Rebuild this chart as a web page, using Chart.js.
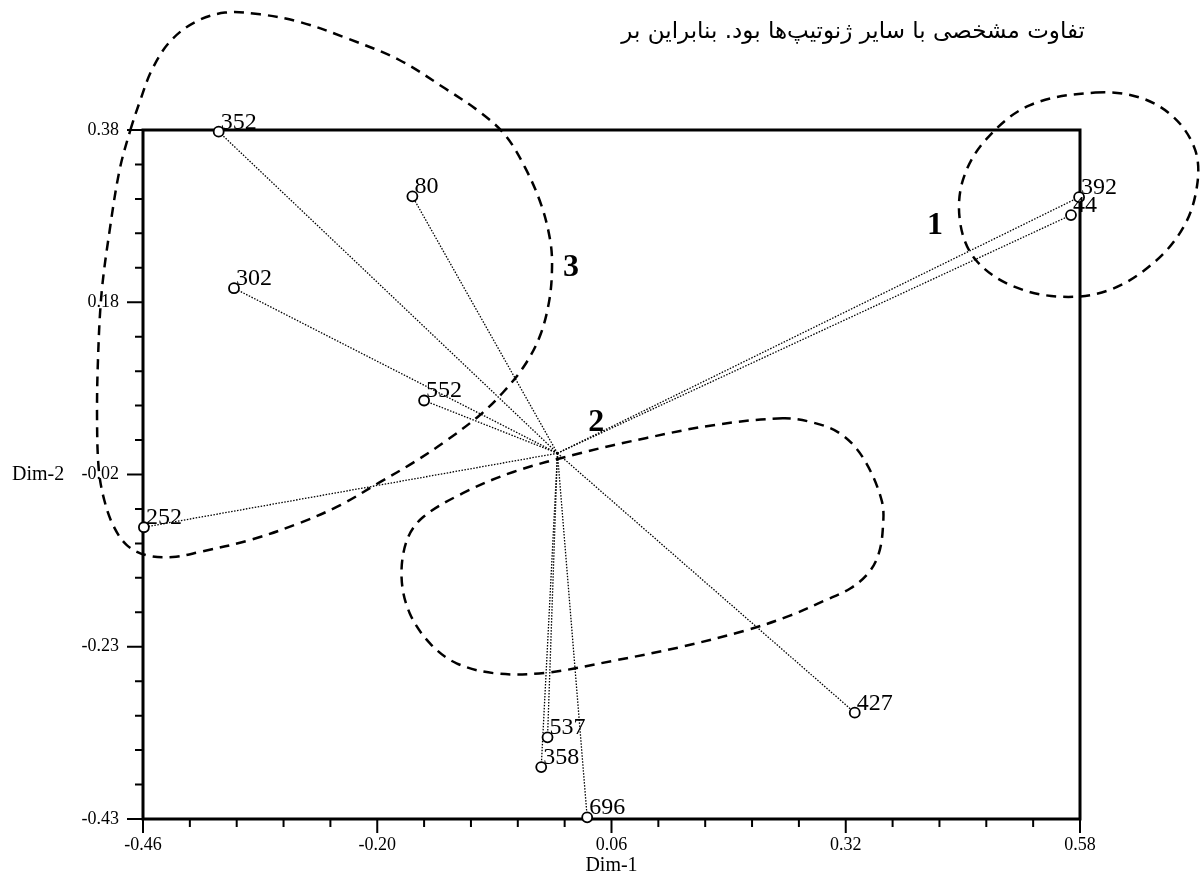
<!DOCTYPE html>
<html>
<head>
<meta charset="utf-8">
<script src="https://cdn.jsdelivr.net/npm/chart.js@4"></script>
<style>
  body { margin: 0; background: #fff; }
  #wrap { position: relative; width: 1203px; height: 878px; }
  #note {
    position: absolute; top: 17px; right: 118px;
    font-family: "DejaVu Sans"; font-size: 23px;
    direction: rtl; white-space: nowrap; color: #000;
  }
</style>
</head>
<body>
<div id="wrap">
  <canvas id="biplot" width="1203" height="878"></canvas>
  <div id="note">تفاوت مشخصی با سایر ژنوتیپ‌ها بود. بنابراین بر</div>
</div>
<script>
// genotype scores on the two dimensions
const genotypes = ["352", "80", "302", "552", "252", "392", "44", "427", "537", "358", "696"];
const dim1 = [-0.376, -0.161, -0.359, -0.148, -0.459, 0.579, 0.570, 0.330, -0.011, -0.018, 0.033];
const dim2 = [0.378, 0.302, 0.194, 0.062, -0.087, 0.301, 0.280, -0.305, -0.334, -0.369, -0.428];

const xTickLabels = ["-0.46", "-0.20", "0.06", "0.32", "0.58"];
const yTickLabels = ["0.38", "0.18", "-0.02", "-0.23", "-0.43"];

// group outlines (Dim-1, Dim-2)
const group1 = [[0.597, 0.424], [0.647, 0.418], [0.685, 0.394], [0.708, 0.356], [0.710, 0.315],
  [0.696, 0.268], [0.663, 0.225], [0.613, 0.192], [0.558, 0.184], [0.502, 0.198],
  [0.463, 0.229], [0.447, 0.271], [0.450, 0.321], [0.475, 0.368], [0.524, 0.409]];
const group2 = [[0.250, 0.041], [0.173, 0.033], [0.099, 0.018], [0.025, 0.000], [-0.049, -0.022],
  [-0.105, -0.047], [-0.149, -0.075], [-0.167, -0.102], [-0.173, -0.146], [-0.164, -0.188],
  [-0.141, -0.224], [-0.112, -0.247], [-0.067, -0.259], [-0.012, -0.258], [0.062, -0.244],
  [0.136, -0.228], [0.210, -0.208], [0.258, -0.191], [0.297, -0.173], [0.325, -0.159],
  [0.345, -0.141], [0.356, -0.120], [0.361, -0.091], [0.360, -0.056], [0.339, -0.005],
  [0.314, 0.023], [0.284, 0.036]];
const group3 = [[-0.474, 0.380], [-0.463, 0.415], [-0.450, 0.451], [-0.430, 0.484], [-0.402, 0.507],
  [-0.369, 0.518], [-0.330, 0.516], [-0.286, 0.507], [-0.234, 0.488], [-0.175, 0.462],
  [-0.125, 0.429], [-0.086, 0.401], [-0.058, 0.374], [-0.036, 0.336], [-0.018, 0.292],
  [-0.008, 0.250], [-0.006, 0.219], [-0.009, 0.180], [-0.019, 0.139], [-0.036, 0.104],
  [-0.060, 0.072], [-0.086, 0.045], [-0.123, 0.015], [-0.160, -0.011], [-0.197, -0.034],
  [-0.241, -0.061], [-0.286, -0.082], [-0.341, -0.102], [-0.397, -0.116], [-0.427, -0.122],
  [-0.456, -0.120], [-0.478, -0.108], [-0.493, -0.085], [-0.503, -0.055], [-0.509, -0.020],
  [-0.511, 0.039], [-0.510, 0.109], [-0.506, 0.188], [-0.497, 0.262], [-0.486, 0.333]];

const groupNames = ["1", "2", "3"];
const groupLabelX = [0.419, 0.043, 0.015];
const groupLabelY = [0.268, 0.036, 0.218];

const serif = "'Liberation Serif', 'Times New Roman', serif";

// closed smooth outline: wrap the ends so the spline has neighbours, hide the extra segments
function outline(pts) {
  const n = pts.length;
  const loop = [pts[n - 1], ...pts, pts[0], pts[1]].map(p => ({ x: p[0], y: p[1] }));
  return {
    data: loop,
    showLine: true,
    pointRadius: 0,
    borderColor: "#000",
    borderWidth: 2.5,
    borderDash: [10, 7],
    tension: 0.35,
    clip: false,
    segment: {
      borderColor: c => (c.p0DataIndex === 0 || c.p0DataIndex === n + 1) ? "rgba(0,0,0,0)" : "#000"
    }
  };
}

const points = genotypes.map((g, i) => ({ x: dim1[i], y: dim2[i] }));

const spokes = genotypes.map((g, i) => ({
  data: [{ x: 0, y: 0 }, { x: dim1[i], y: dim2[i] }],
  showLine: true,
  pointRadius: 0,
  borderColor: "#000",
  borderWidth: 1.3,
  borderDash: [1.5, 1.5],
  clip: false
}));

const extras = {
  id: "extras",
  beforeDatasetsDraw(chart) {
    const { ctx, chartArea: a, scales: { x, y } } = chart;
    ctx.save();
    ctx.strokeStyle = "#000";
    ctx.lineWidth = 3;
    ctx.strokeRect(a.left, a.top, a.right - a.left, a.bottom - a.top);
    ctx.lineWidth = 2;
    ctx.beginPath();
    for (let i = 0; i <= 20; i++) {
      const px = x.getPixelForValue(x.min + i * (x.max - x.min) / 20);
      ctx.moveTo(px, a.bottom);
      ctx.lineTo(px, a.bottom + (i % 5 === 0 ? 14 : 8));
      const py = y.getPixelForValue(y.min + i * (y.max - y.min) / 20);
      ctx.moveTo(a.left, py);
      ctx.lineTo(a.left - (i % 5 === 0 ? 16 : 8), py);
    }
    ctx.stroke();
    ctx.fillStyle = "#000";
    ctx.font = "20px " + serif;
    ctx.textBaseline = "middle";
    ctx.textAlign = "left";
    ctx.fillText("Dim-2", 12, (a.top + a.bottom) / 2);
    ctx.textAlign = "center";
    ctx.fillText("Dim-1", (a.left + a.right) / 2, 866);
    ctx.restore();
  },
  afterDatasetsDraw(chart) {
    const { ctx, scales: { x, y } } = chart;
    const meta = chart.getDatasetMeta(0);
    ctx.save();
    ctx.fillStyle = "#000";
    ctx.font = "24px " + serif;
    ctx.textAlign = "left";
    ctx.textBaseline = "alphabetic";
    meta.data.forEach((el, i) => ctx.fillText(genotypes[i], el.x + 2, el.y - 3));
    ctx.font = "bold 32px " + serif;
    ctx.textAlign = "center";
    ctx.textBaseline = "middle";
    groupNames.forEach((g, i) => {
      ctx.fillText(g, x.getPixelForValue(groupLabelX[i]), y.getPixelForValue(groupLabelY[i]));
    });
    ctx.restore();
  }
};

new Chart(document.getElementById("biplot"), {
  type: "scatter",
  data: {
    datasets: [
      {
        data: points,
        pointRadius: 5,
        pointBackgroundColor: "#fff",
        pointBorderColor: "#000",
        pointBorderWidth: 1.8,
        clip: false
      },
      ...spokes,
      outline(group1),
      outline(group2),
      outline(group3)
    ]
  },
  options: {
    responsive: false,
    animation: false,
    layout: { autoPadding: false, padding: { top: 130, right: 123, left: 0, bottom: 0 } },
    plugins: { legend: { display: false }, tooltip: { enabled: false } },
    scales: {
      x: {
        min: -0.46,
        max: 0.58,
        afterBuildTicks: s => { s.ticks = xTickLabels.map((t, i) => ({ value: s.min + i * (s.max - s.min) / 4 })); },
        afterFit: s => { s.height = 59; },
        grid: { display: false },
        border: { display: false },
        ticks: {
          padding: 7,
          color: "#000",
          font: { family: serif, size: 18 },
          callback: (v, i) => xTickLabels[i]
        }
      },
      y: {
        min: -0.43,
        max: 0.38,
        afterBuildTicks: s => { s.ticks = yTickLabels.map((t, i) => ({ value: s.max - i * (s.max - s.min) / 4 })); },
        afterFit: s => { s.width = 143; },
        grid: { display: false },
        border: { display: false },
        ticks: {
          padding: 16,
          color: "#000",
          font: { family: serif, size: 18 },
          callback: (v, i) => yTickLabels[i]
        }
      }
    }
  },
  plugins: [extras]
});
</script>
</body>
</html>
